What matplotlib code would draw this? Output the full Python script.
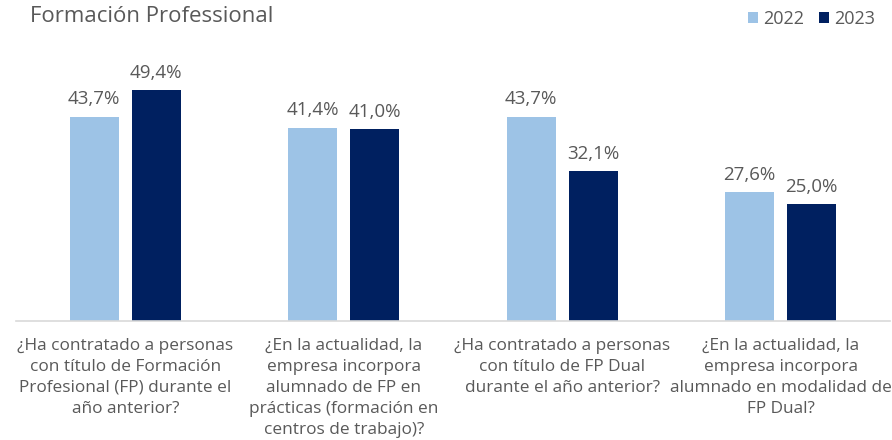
import matplotlib
matplotlib.use('AGG')

import matplotlib.pyplot as plt
import numpy as np

categories = [
    '¿Ha contratado a personas\ncon título de Formación\nProfesional (FP) durante el\naño anterior?',
    '¿En la actualidad, la\nempresa incorpora\nalumnado de FP en\nprácticas (formación en\ncentros de trabajo)?',
    '¿Ha contratado a personas\ncon título de FP Dual\ndurante el año anterior?',
    '¿En la actualidad, la\nempresa incorpora\nalumnado en modalidad de\nFP Dual?',
]
values_2022 = [43.7, 41.4, 43.7, 27.6]
values_2023 = [49.4, 41.0, 32.1, 25.0]
series_labels = ['2022', '2023']

light_blue = '#9DC3E6'
dark_blue = '#002060'
text_grey = '#595959'

plt.rcParams['font.family'] = ['Open Sans', 'DejaVu Sans']

fig = plt.figure(figsize=(8.92, 4.40), dpi=100)
ax = fig.add_axes([16 / 892, 1 - 321 / 440, 874 / 892, 271 / 440])

x = np.arange(len(categories))
width = 0.224
offset = 0.142

b1 = ax.bar(x - offset, values_2022, width, color=light_blue, label=series_labels[0])
b2 = ax.bar(x + offset, values_2023, width, color=dark_blue, label=series_labels[1])

for bars in (b1, b2):
    for rect in bars:
        h = rect.get_height()
        ax.annotate('{:.1f}%'.format(h).replace('.', ','),
                    (rect.get_x() + rect.get_width() / 2, h),
                    xytext=(0, 6), textcoords='offset points',
                    ha='center', va='bottom', fontsize=13.5, color=text_grey)

ax.set_xlim(-0.5, len(categories) - 0.5)
ax.set_ylim(0, 58)
ax.set_xticks(x)
ax.set_xticklabels(categories, fontsize=12.4, color=text_grey, linespacing=1.42)
ax.tick_params(axis='x', length=0, pad=12)
ax.set_yticks([])
for side in ('top', 'right', 'left'):
    ax.spines[side].set_visible(False)
ax.spines['bottom'].set_color('#D9D9D9')
ax.spines['bottom'].set_linewidth(1.2)

fig.text(30 / 892, 1 - 17 / 440, 'Formación Professional', fontsize=16,
         color=text_grey, va='center', ha='left')

leg = fig.legend(handles=[b1, b2], labels=series_labels, loc='center right',
                 bbox_to_anchor=(884 / 892, 1 - 19 / 440), ncol=2, frameon=False,
                 fontsize=13, handlelength=0.55, handleheight=0.55,
                 handletextpad=0.3, columnspacing=0.8, borderpad=0)
for t in leg.get_texts():
    t.set_color(text_grey)

fig.savefig('out.png', dpi=100, facecolor='white')
